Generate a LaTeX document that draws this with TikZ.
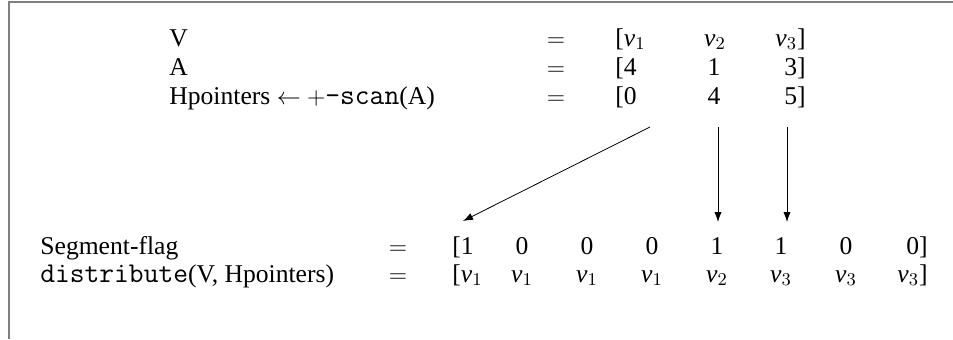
\documentclass[tikz,border=0pt]{standalone}
\usepackage{fontspec}
\setmainfont{Liberation Serif}
\setmonofont{Latin Modern Mono}[Scale=1.12]
\usetikzlibrary{arrows.meta}
\newcommand{\velem}[1]{\textit{v}$_{#1}$}

\begin{document}
\begin{tikzpicture}[>={Latex[length=5pt,width=3.6pt]}, x=0.5pt, y=-0.5pt, font=\fontsize{12.8}{15}\selectfont]
    \tikzstyle{lbl}=[inner sep=0pt, anchor=base west]
    \tikzstyle{cell}=[inner sep=0pt, anchor=base]
    \tikzstyle{lastcell}=[inner sep=0pt, anchor=base east]
    \tikzstyle{frame}=[draw=gray, line width=1pt]
    \useasboundingbox (0,0) rectangle (953,339);
    \draw[frame] (9,339) -- (9,2) -- (953,2);

    % top rows
    \node[lbl] (vname) at (169,46) {V};
    \node[cell] (veq) at (556,46) {$=$};
    \node[lbl] (v0) at (615,46) {[\velem{1}};
    \node[cell] (v1) at (715,46) {\velem{2}};
    \node[lastcell] (v2) at (806,46) {\velem{3}]};

    \node[lbl] (aname) at (169,75) {A};
    \node[cell] (aeq) at (556,75) {$=$};
    \node[lbl] (a0) at (615,75) {[4};
    \node[cell] (a1) at (714,75) {1};
    \node[lastcell] (a2) at (806,75) {3]};

    \node[lbl] (hname) at (169,104) {Hpointers $\leftarrow$ $+$\texttt{-scan}(A)};
    \node[cell] (heq) at (556,104) {$=$};
    \node[lbl] (h0) at (615,104) {[0};
    \node[cell] (h1) at (714,104) {4};
    \node[lastcell] (h2) at (806,104) {5]};

    % bottom rows
    \node[lbl] (fname) at (40,254) {Segment-flag};
    \node[cell] (feq) at (398,254) {$=$};
    \node[lbl] (f0) at (452,254) {[1};
    \node[cell] (f1) at (522,254) {0};
    \node[cell] (f2) at (587,254) {0};
    \node[cell] (f3) at (652,254) {0};
    \node[cell] (f4) at (717,254) {1};
    \node[cell] (f5) at (781,254) {1};
    \node[cell] (f6) at (846,254) {0};
    \node[lastcell] (f7) at (928,254) {0]};

    \node[lbl] (dname) at (40,282) {\texttt{distribute}(V, Hpointers)};
    \node[cell] (deq) at (398,282) {$=$};
    \node[lbl] (d0) at (452,282) {[\velem{1}};
    \node[cell] (d1) at (522,282) {\velem{1}};
    \node[cell] (d2) at (587,282) {\velem{1}};
    \node[cell] (d3) at (652,282) {\velem{1}};
    \node[cell] (d4) at (717,282) {\velem{2}};
    \node[cell] (d5) at (781,282) {\velem{3}};
    \node[cell] (d6) at (846,282) {\velem{3}};
    \node[lastcell] (d7) at (928,282) {\velem{3}]};

    % pointer arrows
    \coordinate (p0) at (650,127);
    \coordinate (p1) at (718,127);
    \coordinate (p2) at (787,127);
    \coordinate (q0) at (463,221);
    \coordinate (q1) at (718,222);
    \coordinate (q2) at (787,222);
    \draw[->] (p0) -- (q0);
    \draw[->] (p1) -- (q1);
    \draw[->] (p2) -- (q2);
\end{tikzpicture}
\end{document}
